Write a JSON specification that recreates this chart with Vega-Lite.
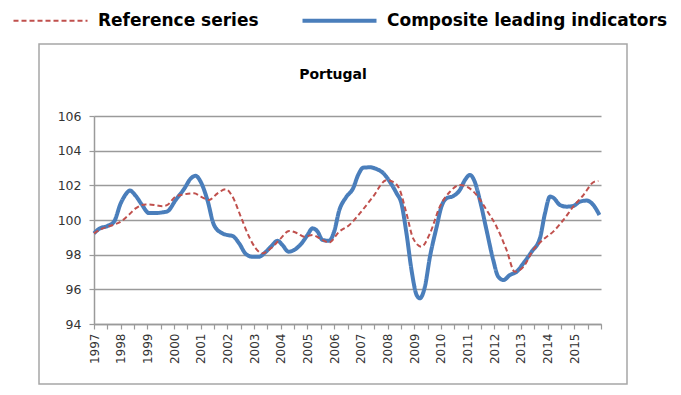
{
  "$schema": "https://vega.github.io/schema/vega-lite/v6.json",
  "width": 588,
  "height": 340,
  "autosize": "none",
  "padding": {"left": 39, "top": 44, "right": 54, "bottom": 11},
  "background": "white",
  "config": {
    "view": {"stroke": "#A6A6A6", "strokeWidth": 1.5},
    "font": "DejaVu Sans"
  },
  "title": {
    "text": "Portugal",
    "font": "DejaVu Sans",
    "fontSize": 14,
    "fontWeight": "bold",
    "color": "#000000",
    "anchor": "middle",
    "frame": "group",
    "offset": -70
  },
  "data": {
    "values": [
      {"series": "Composite leading indicators", "year": 1997.0, "value": 99.23},
      {"series": "Composite leading indicators", "year": 1997.2, "value": 99.5},
      {"series": "Composite leading indicators", "year": 1997.5, "value": 99.65},
      {"series": "Composite leading indicators", "year": 1997.75, "value": 99.9},
      {"series": "Composite leading indicators", "year": 1998.0, "value": 100.96},
      {"series": "Composite leading indicators", "year": 1998.2, "value": 101.5},
      {"series": "Composite leading indicators", "year": 1998.34, "value": 101.7},
      {"series": "Composite leading indicators", "year": 1998.56, "value": 101.4},
      {"series": "Composite leading indicators", "year": 1998.8, "value": 100.87},
      {"series": "Composite leading indicators", "year": 1999.06, "value": 100.4},
      {"series": "Composite leading indicators", "year": 1999.3, "value": 100.4},
      {"series": "Composite leading indicators", "year": 1999.56, "value": 100.44},
      {"series": "Composite leading indicators", "year": 1999.75, "value": 100.5},
      {"series": "Composite leading indicators", "year": 2000.06, "value": 101.15},
      {"series": "Composite leading indicators", "year": 2000.38, "value": 101.8},
      {"series": "Composite leading indicators", "year": 2000.63, "value": 102.4},
      {"series": "Composite leading indicators", "year": 2000.81, "value": 102.55},
      {"series": "Composite leading indicators", "year": 2001.0, "value": 102.2},
      {"series": "Composite leading indicators", "year": 2001.25, "value": 101.15},
      {"series": "Composite leading indicators", "year": 2001.5, "value": 99.7},
      {"series": "Composite leading indicators", "year": 2001.81, "value": 99.23},
      {"series": "Composite leading indicators", "year": 2002.0, "value": 99.13},
      {"series": "Composite leading indicators", "year": 2002.19, "value": 99.08},
      {"series": "Composite leading indicators", "year": 2002.44, "value": 98.65},
      {"series": "Composite leading indicators", "year": 2002.69, "value": 98.04},
      {"series": "Composite leading indicators", "year": 2002.94, "value": 97.88},
      {"series": "Composite leading indicators", "year": 2003.19, "value": 97.88},
      {"series": "Composite leading indicators", "year": 2003.38, "value": 98.08},
      {"series": "Composite leading indicators", "year": 2003.63, "value": 98.46},
      {"series": "Composite leading indicators", "year": 2003.88, "value": 98.8},
      {"series": "Composite leading indicators", "year": 2004.06, "value": 98.56},
      {"series": "Composite leading indicators", "year": 2004.29, "value": 98.17},
      {"series": "Composite leading indicators", "year": 2004.5, "value": 98.27},
      {"series": "Composite leading indicators", "year": 2004.75, "value": 98.6},
      {"series": "Composite leading indicators", "year": 2005.0, "value": 99.13},
      {"series": "Composite leading indicators", "year": 2005.19, "value": 99.52},
      {"series": "Composite leading indicators", "year": 2005.38, "value": 99.33},
      {"series": "Composite leading indicators", "year": 2005.56, "value": 98.85},
      {"series": "Composite leading indicators", "year": 2005.81, "value": 98.8},
      {"series": "Composite leading indicators", "year": 2006.0, "value": 99.33},
      {"series": "Composite leading indicators", "year": 2006.19, "value": 100.55},
      {"series": "Composite leading indicators", "year": 2006.44, "value": 101.3},
      {"series": "Composite leading indicators", "year": 2006.71, "value": 101.83},
      {"series": "Composite leading indicators", "year": 2006.9, "value": 102.6},
      {"series": "Composite leading indicators", "year": 2007.09, "value": 103.02},
      {"series": "Composite leading indicators", "year": 2007.34, "value": 103.04},
      {"series": "Composite leading indicators", "year": 2007.59, "value": 102.94},
      {"series": "Composite leading indicators", "year": 2007.84, "value": 102.7},
      {"series": "Composite leading indicators", "year": 2008.09, "value": 102.2},
      {"series": "Composite leading indicators", "year": 2008.34, "value": 101.54},
      {"series": "Composite leading indicators", "year": 2008.52, "value": 100.96},
      {"series": "Composite leading indicators", "year": 2008.71, "value": 99.23},
      {"series": "Composite leading indicators", "year": 2008.9, "value": 97.1},
      {"series": "Composite leading indicators", "year": 2009.09, "value": 95.67},
      {"series": "Composite leading indicators", "year": 2009.21, "value": 95.48},
      {"series": "Composite leading indicators", "year": 2009.4, "value": 96.15},
      {"series": "Composite leading indicators", "year": 2009.59, "value": 97.88},
      {"series": "Composite leading indicators", "year": 2009.84, "value": 99.6},
      {"series": "Composite leading indicators", "year": 2010.02, "value": 100.77},
      {"series": "Composite leading indicators", "year": 2010.21, "value": 101.25},
      {"series": "Composite leading indicators", "year": 2010.46, "value": 101.38},
      {"series": "Composite leading indicators", "year": 2010.71, "value": 101.73},
      {"series": "Composite leading indicators", "year": 2010.9, "value": 102.3},
      {"series": "Composite leading indicators", "year": 2011.09, "value": 102.6},
      {"series": "Composite leading indicators", "year": 2011.27, "value": 102.2},
      {"series": "Composite leading indicators", "year": 2011.46, "value": 101.15},
      {"series": "Composite leading indicators", "year": 2011.71, "value": 99.42},
      {"series": "Composite leading indicators", "year": 2011.96, "value": 97.7},
      {"series": "Composite leading indicators", "year": 2012.15, "value": 96.73},
      {"series": "Composite leading indicators", "year": 2012.34, "value": 96.54},
      {"series": "Composite leading indicators", "year": 2012.59, "value": 96.83},
      {"series": "Composite leading indicators", "year": 2012.84, "value": 97.02},
      {"series": "Composite leading indicators", "year": 2013.09, "value": 97.5},
      {"series": "Composite leading indicators", "year": 2013.4, "value": 98.17},
      {"series": "Composite leading indicators", "year": 2013.71, "value": 98.94},
      {"series": "Composite leading indicators", "year": 2013.9, "value": 100.38},
      {"series": "Composite leading indicators", "year": 2014.09, "value": 101.35},
      {"series": "Composite leading indicators", "year": 2014.21, "value": 101.29},
      {"series": "Composite leading indicators", "year": 2014.46, "value": 100.87},
      {"series": "Composite leading indicators", "year": 2014.71, "value": 100.77},
      {"series": "Composite leading indicators", "year": 2014.96, "value": 100.81},
      {"series": "Composite leading indicators", "year": 2015.21, "value": 101.06},
      {"series": "Composite leading indicators", "year": 2015.46, "value": 101.12},
      {"series": "Composite leading indicators", "year": 2015.71, "value": 100.87},
      {"series": "Composite leading indicators", "year": 2015.94, "value": 100.29},
      {"series": "Reference series", "year": 1997.0, "value": 99.23},
      {"series": "Reference series", "year": 1997.31, "value": 99.5},
      {"series": "Reference series", "year": 1997.69, "value": 99.7},
      {"series": "Reference series", "year": 1998.0, "value": 99.9},
      {"series": "Reference series", "year": 1998.31, "value": 100.3},
      {"series": "Reference series", "year": 1998.56, "value": 100.67},
      {"series": "Reference series", "year": 1998.94, "value": 100.9},
      {"series": "Reference series", "year": 1999.25, "value": 100.87},
      {"series": "Reference series", "year": 1999.56, "value": 100.8},
      {"series": "Reference series", "year": 1999.75, "value": 100.87},
      {"series": "Reference series", "year": 2000.06, "value": 101.35},
      {"series": "Reference series", "year": 2000.38, "value": 101.48},
      {"series": "Reference series", "year": 2000.75, "value": 101.54},
      {"series": "Reference series", "year": 2001.0, "value": 101.35},
      {"series": "Reference series", "year": 2001.31, "value": 101.15},
      {"series": "Reference series", "year": 2001.63, "value": 101.54},
      {"series": "Reference series", "year": 2001.94, "value": 101.77},
      {"series": "Reference series", "year": 2002.19, "value": 101.35},
      {"series": "Reference series", "year": 2002.5, "value": 100.2},
      {"series": "Reference series", "year": 2002.81, "value": 99.04},
      {"series": "Reference series", "year": 2003.06, "value": 98.37},
      {"series": "Reference series", "year": 2003.31, "value": 98.08},
      {"series": "Reference series", "year": 2003.63, "value": 98.37},
      {"series": "Reference series", "year": 2004.0, "value": 98.94},
      {"series": "Reference series", "year": 2004.31, "value": 99.37},
      {"series": "Reference series", "year": 2004.63, "value": 99.23},
      {"series": "Reference series", "year": 2004.88, "value": 99.04},
      {"series": "Reference series", "year": 2005.19, "value": 99.13},
      {"series": "Reference series", "year": 2005.56, "value": 98.85},
      {"series": "Reference series", "year": 2005.81, "value": 98.7},
      {"series": "Reference series", "year": 2006.19, "value": 99.33},
      {"series": "Reference series", "year": 2006.56, "value": 99.7},
      {"series": "Reference series", "year": 2006.96, "value": 100.38},
      {"series": "Reference series", "year": 2007.46, "value": 101.35},
      {"series": "Reference series", "year": 2007.96, "value": 102.3},
      {"series": "Reference series", "year": 2008.21, "value": 102.2},
      {"series": "Reference series", "year": 2008.46, "value": 101.73},
      {"series": "Reference series", "year": 2008.71, "value": 100.38},
      {"series": "Reference series", "year": 2008.96, "value": 98.94},
      {"series": "Reference series", "year": 2009.27, "value": 98.46},
      {"series": "Reference series", "year": 2009.59, "value": 99.23},
      {"series": "Reference series", "year": 2009.96, "value": 100.77},
      {"series": "Reference series", "year": 2010.34, "value": 101.63},
      {"series": "Reference series", "year": 2010.71, "value": 102.02},
      {"series": "Reference series", "year": 2011.02, "value": 101.88},
      {"series": "Reference series", "year": 2011.34, "value": 101.44},
      {"series": "Reference series", "year": 2011.71, "value": 100.58},
      {"series": "Reference series", "year": 2012.09, "value": 99.6},
      {"series": "Reference series", "year": 2012.46, "value": 98.27},
      {"series": "Reference series", "year": 2012.77, "value": 97.02},
      {"series": "Reference series", "year": 2013.09, "value": 97.3},
      {"series": "Reference series", "year": 2013.46, "value": 98.27},
      {"series": "Reference series", "year": 2013.84, "value": 98.88},
      {"series": "Reference series", "year": 2014.21, "value": 99.33},
      {"series": "Reference series", "year": 2014.59, "value": 100.0},
      {"series": "Reference series", "year": 2014.96, "value": 100.77},
      {"series": "Reference series", "year": 2015.34, "value": 101.44},
      {"series": "Reference series", "year": 2015.74, "value": 102.2},
      {"series": "Reference series", "year": 2015.9, "value": 102.25}
    ]
  },
  "mark": {"type": "line", "interpolate": "monotone"},
  "encoding": {
    "x": {
      "field": "year",
      "type": "quantitative",
      "scale": {"domain": [1997, 2016], "range": [55, 562], "nice": false, "zero": false},
      "axis": {
        "orient": "bottom",
        "offset": -60,
        "title": null,
        "grid": false,
        "values": [1997, 1997.5, 1998, 1998.5, 1999, 1999.5, 2000, 2000.5, 2001, 2001.5, 2002, 2002.5, 2003, 2003.5, 2004, 2004.5, 2005, 2005.5, 2006, 2006.5, 2007, 2007.5, 2008, 2008.5, 2009, 2009.5, 2010, 2010.5, 2011, 2011.5, 2012, 2012.5, 2013, 2013.5, 2014, 2014.5, 2015, 2015.5, 2016],
        "labelExpr": "(datum.value % 1 === 0 && datum.value < 2016) ? ('' + datum.value) : ''",
        "labelAngle": 270,
        "labelAlign": "right",
        "labelBaseline": "middle",
        "labelOverlap": false,
        "labelFlush": false,
        "labelFont": "DejaVu Sans",
        "labelFontSize": 12,
        "labelColor": "#333333",
        "labelPadding": 4,
        "domainColor": "#9A9A9A",
        "domainWidth": 1.5,
        "tickColor": "#9A9A9A",
        "tickWidth": 1.2,
        "tickSize": 5
      }
    },
    "y": {
      "field": "value",
      "type": "quantitative",
      "scale": {"domain": [94, 106], "range": [280, 72], "nice": false, "zero": false},
      "axis": {
        "orient": "left",
        "offset": -55,
        "title": null,
        "grid": true,
        "values": [94, 96, 98, 100, 102, 104, 106],
        "gridColor": "#9A9A9A",
        "gridWidth": 1.5,
        "domainColor": "#9A9A9A",
        "domainWidth": 1.5,
        "tickColor": "#9A9A9A",
        "tickWidth": 1.2,
        "tickSize": 5,
        "labelFont": "DejaVu Sans",
        "labelFontSize": 12.5,
        "labelColor": "#333333",
        "labelPadding": 8
      }
    },
    "color": {
      "field": "series",
      "type": "nominal",
      "scale": {"domain": ["Reference series", "Composite leading indicators"], "range": ["#C0504D", "#4A7EBB"]},
      "legend": {
        "orient": "none",
        "legendX": 16,
        "legendY": -32,
        "direction": "horizontal",
        "title": null,
        "symbolType": "stroke",
        "symbolSize": 5476,
        "symbolOffset": -13,
        "labelFont": "DejaVu Sans",
        "labelFontSize": 17,
        "labelFontWeight": "bold",
        "labelColor": "#000000",
        "labelLimit": 400,
        "labelOffset": 26,
        "columnPadding": 35,
        "encode": {
          "symbols": {"update": {"strokeWidth": {"signal": "datum.value === 'Composite leading indicators' ? 4 : 2"}}},
          "labels": {"update": {"dx": {"value": 13}}}
        }
      }
    },
    "strokeDash": {
      "field": "series",
      "type": "nominal",
      "scale": {"domain": ["Reference series", "Composite leading indicators"], "range": [[5, 3], [1, 0]]},
      "legend": {
        "orient": "none",
        "legendX": 16,
        "legendY": -32,
        "direction": "horizontal",
        "title": null,
        "symbolType": "stroke",
        "symbolSize": 5476,
        "symbolOffset": -13,
        "labelFont": "DejaVu Sans",
        "labelFontSize": 17,
        "labelFontWeight": "bold",
        "labelColor": "#000000",
        "labelLimit": 400,
        "labelOffset": 26,
        "columnPadding": 35,
        "encode": {
          "symbols": {"update": {"strokeWidth": {"signal": "datum.value === 'Composite leading indicators' ? 4 : 2"}}},
          "labels": {"update": {"dx": {"value": 13}}}
        }
      }
    },
    "strokeWidth": {
      "condition": {"test": "datum.series === 'Composite leading indicators'", "value": 4},
      "value": 2
    }
  }
}
